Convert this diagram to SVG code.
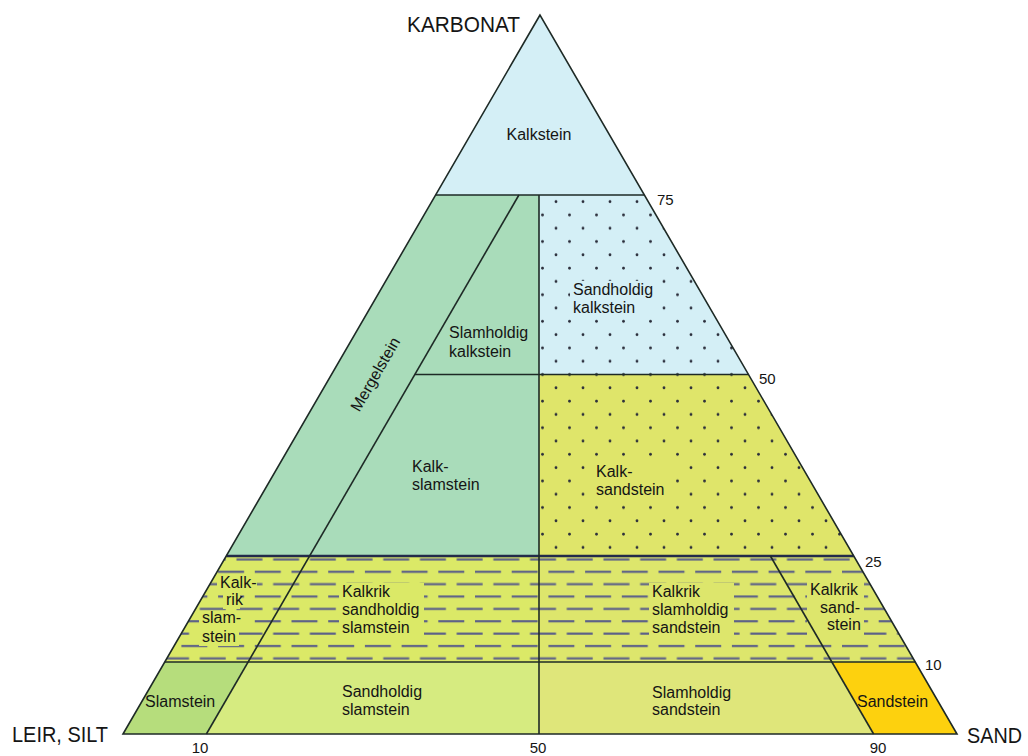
<svg xmlns="http://www.w3.org/2000/svg" width="1028" height="756" viewBox="0 0 1028 756">
<style>
.lbl{font-family:"Liberation Sans",Arial,sans-serif;font-size:16px;fill:#151515}
.num{font-family:"Liberation Sans",Arial,sans-serif;font-size:15px;fill:#151515}
.big{font-family:"Liberation Sans",Arial,sans-serif;font-size:22px;fill:#151515}
.ln{stroke:#1e2a26;stroke-width:1.6;fill:none}
.blue{fill:#d4eff6}
.green{fill:#a9dcba}
.ksand{fill:#dfe56a}
.band{fill:#dbe967}
.band2{fill:#dde66c}
</style>
<defs>
<pattern id="dots" patternUnits="userSpaceOnUse" x="536" y="195" width="27" height="26.6">
<circle cx="20" cy="6.65" r="1.4" fill="#2a2d3a"/>
<circle cx="6.5" cy="19.95" r="1.4" fill="#2a2d3a"/>
</pattern>
<pattern id="dash" patternUnits="userSpaceOnUse" x="475" y="565.7" width="36.7" height="24.74">
<rect x="0" y="5" width="26" height="2.2" fill="#5d6188"/>
<rect x="18.35" y="17.37" width="26" height="2.2" fill="#5d6188"/>
<rect x="-18.35" y="17.37" width="26" height="2.2" fill="#5d6188"/>
</pattern>
<clipPath id="clipKS"><polygon points="226.2,556 309.6,556 248.2,662 164.8,662"/></clipPath>
</defs>
<rect width="1028" height="756" fill="#ffffff"/>

<g id="kalkstein">
<polygon class="blue" points="540,15 435.6,195 644.4,195"/>
<text class="lbl" x="539" y="140" text-anchor="middle">Kalkstein</text>
</g>
<g id="mergelstein">
<polygon class="green" points="435.6,195 518.9,195 309.6,556 226.2,556"/>
<text class="lbl" transform="translate(380,377) rotate(-60)" text-anchor="middle" font-size="17">Mergelstein</text>
</g>
<g id="slamholdig-kalkstein">
<polygon class="green" points="518.9,195 539,195 539,374.5 414.9,374.5"/>
<text class="lbl" x="449" y="338">Slamholdig</text>
<text class="lbl" x="449" y="356.5">kalkstein</text>
</g>
<g id="kalk-slamstein">
<polygon class="green" points="414.9,374.5 539,374.5 539,556 309.6,556"/>
<text class="lbl" x="412" y="472">Kalk-</text>
<text class="lbl" x="412" y="490">slamstein</text>
</g>
<g id="sandholdig-kalkstein">
<polygon class="blue" points="539,195 644.4,195 748.5,374.5 539,374.5"/>
<polygon fill="url(#dots)" points="539,195 644.4,195 748.5,374.5 539,374.5"/>
<rect class="blue" x="570" y="281" width="91" height="37"/>
<text class="lbl" x="573" y="295">Sandholdig</text>
<text class="lbl" x="573" y="313">kalkstein</text>
</g>
<g id="kalk-sandstein">
<polygon class="ksand" points="539,374.5 748.5,374.5 853.8,556 539,556"/>
<polygon fill="url(#dots)" points="539,374.5 748.5,374.5 853.8,556 539,556"/>
<rect class="ksand" x="593" y="462" width="77" height="38"/>
<text class="lbl" x="596" y="477">Kalk-</text>
<text class="lbl" x="596" y="495">sandstein</text>
</g>
<g id="kalkrik-slamstein">
<polygon class="band" points="226.2,556 309.6,556 248.2,662 164.8,662"/>
<polygon fill="url(#dash)" points="226.2,556 309.6,556 248.2,662 164.8,662"/>
<g clip-path="url(#clipKS)">
<rect class="band" x="217" y="575" width="40" height="17"/>
<rect class="band" x="223" y="593" width="17" height="16"/>
<rect class="band" x="199" y="611" width="46" height="16"/>
<rect class="band" x="199" y="629" width="40" height="17"/>
</g>
<text class="lbl" x="220" y="588">Kalk-</text>
<text class="lbl" x="226" y="605">rik</text>
<text class="lbl" x="202" y="623">slam-</text>
<text class="lbl" x="202" y="641.5">stein</text>
</g>
<g id="kalkrik-sandholdig-slamstein">
<polygon class="band" points="309.6,556 539,556 539,662 248.2,662"/>
<polygon fill="url(#dash)" points="309.6,556 539,556 539,662 248.2,662"/>
<rect class="band" x="339" y="583" width="85" height="55"/>
<text class="lbl" x="342" y="597">Kalkrik</text>
<text class="lbl" x="342" y="615">sandholdig</text>
<text class="lbl" x="342" y="633">slamstein</text>
</g>
<g id="kalkrik-slamholdig-sandstein">
<polygon class="band2" points="539,556 770.4,556 831.8,662 539,662"/>
<polygon fill="url(#dash)" points="539,556 770.4,556 831.8,662 539,662"/>
<rect class="band2" x="649" y="583" width="85" height="55"/>
<text class="lbl" x="652" y="597">Kalkrik</text>
<text class="lbl" x="652" y="615">slamholdig</text>
<text class="lbl" x="652" y="633">sandstein</text>
</g>
<g id="kalkrik-sandstein">
<polygon class="band2" points="770.4,556 853.8,556 915.2,662 831.8,662"/>
<polygon fill="url(#dash)" points="770.4,556 853.8,556 915.2,662 831.8,662"/>
<rect class="band2" x="807" y="581" width="57" height="54"/>
<text class="lbl" x="810" y="595">Kalkrik</text>
<text class="lbl" x="820" y="613">sand-</text>
<text class="lbl" x="827" y="630">stein</text>
</g>
<g id="slamstein">
<polygon fill="#b6dd7c" points="164.8,662 248.2,662 206.4,734 123,734"/>
<text class="lbl" x="145" y="707">Slamstein</text>
</g>
<g id="sandholdig-slamstein">
<polygon fill="#d6eb80" points="248.2,662 539,662 539,734 206.4,734"/>
<text class="lbl" x="342" y="697">Sandholdig</text>
<text class="lbl" x="342" y="715">slamstein</text>
</g>
<g id="slamholdig-sandstein">
<polygon fill="#dfe67a" points="539,662 831.8,662 873.6,734 539,734"/>
<text class="lbl" x="652" y="698">Slamholdig</text>
<text class="lbl" x="652" y="715">sandstein</text>
</g>
<g id="sandstein">
<polygon fill="#fdd10e" points="831.8,662 915.2,662 957,734 873.6,734"/>
<text class="lbl" x="857" y="707">Sandstein</text>
</g>

<g id="connectors">
<line class="ln" x1="435.6" y1="195" x2="644.4" y2="195"/>
<line class="ln" x1="414.9" y1="374.5" x2="748.5" y2="374.5"/>
<line x1="226.2" y1="556" x2="853.8" y2="556" stroke="#232b4a" stroke-width="2.6"/>
<line class="ln" x1="164.8" y1="662" x2="915.2" y2="662" stroke-width="2"/>
<line class="ln" x1="539" y1="195" x2="539" y2="734"/>
<line class="ln" x1="518.9" y1="195" x2="206.4" y2="734"/>
<line class="ln" x1="770.4" y1="556" x2="873.6" y2="734"/>
<polygon class="ln" points="540,15 123,734 957,734"/>
</g>

<g id="labels">
<text class="big" x="407" y="32" textLength="113" lengthAdjust="spacingAndGlyphs">KARBONAT</text>
<text class="big" x="12" y="742" textLength="96" lengthAdjust="spacingAndGlyphs">LEIR, SILT</text>
<text class="big" x="967" y="743" textLength="55" lengthAdjust="spacingAndGlyphs">SAND</text>
<text class="num" x="657" y="205">75</text>
<text class="num" x="759" y="384">50</text>
<text class="num" x="865" y="567">25</text>
<text class="num" x="925" y="670">10</text>
<text class="num" x="200" y="753" text-anchor="middle">10</text>
<text class="num" x="538" y="753" text-anchor="middle">50</text>
<text class="num" x="878" y="753" text-anchor="middle">90</text>
</g>
</svg>
